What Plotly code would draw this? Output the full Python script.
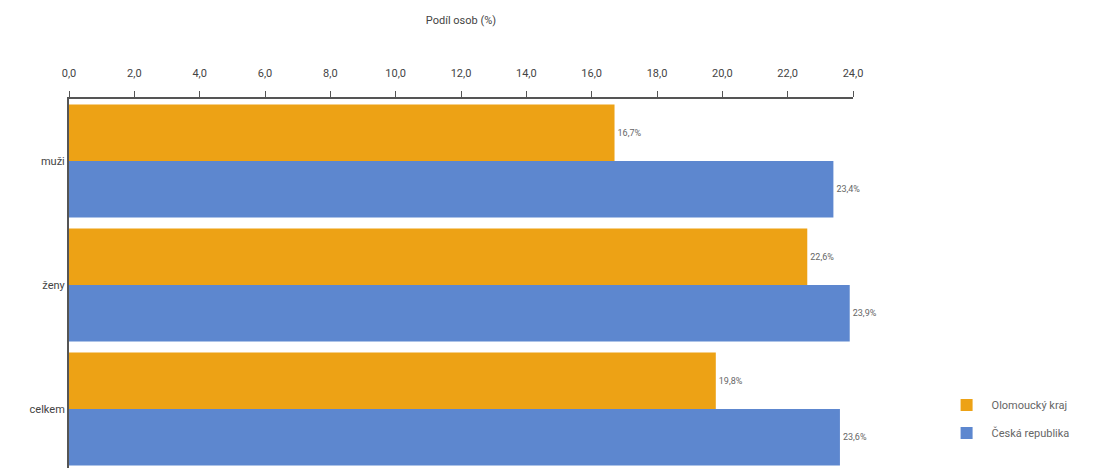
import plotly.graph_objects as go

categories = ["muži", "ženy", "celkem"]
series_names = ["Olomoucký kraj", "Česká republika"]
olomoucky = [16.7, 22.6, 19.8]
cesko = [23.4, 23.9, 23.6]
colors = ["#EDA215", "#5D87CF"]
x_ticks = [0, 2, 4, 6, 8, 10, 12, 14, 16, 18, 20, 22, 24]

fig = go.Figure()
for i, (name, vals, col) in enumerate(zip(series_names, [olomoucky, cesko], colors)):
    fig.add_trace(go.Bar(
        y=categories, x=vals, name=name, orientation="h",
        legendgroup=f"g{i}",
        marker=dict(color=col, line=dict(width=0)),
        texttemplate="%{x:.1f}%", textposition="outside",
        textfont=dict(size=9, color="#666666", family="Roboto"),
        cliponaxis=False,
    ))

fig.update_layout(
    width=1107, height=468,
    margin=dict(l=61, r=262, t=91, b=5, autoexpand=False),
    paper_bgcolor="white", plot_bgcolor="white",
    barmode="group", bargap=0.09, bargroupgap=0,
    separators=", ",
    font=dict(family="Roboto", size=11, color="#444444"),
    showlegend=True,
    legend=dict(x=1.113, y=0.063, xanchor="left", yanchor="bottom",
                font=dict(size=11, color="#666666"), traceorder="grouped",
                itemwidth=40, tracegroupgap=9),
)
fig.update_xaxes(
    side="top", range=[0, 24], tickvals=x_ticks, automargin=False,
    tickformat=".1f", showgrid=False, zeroline=False,
    showline=True, linecolor="#555555", linewidth=2,
    ticks="outside", ticklen=6, tickcolor="#555555",
    ticklabelstandoff=10,
    tickfont=dict(size=11, color="#444444"),
    title=dict(text="Podíl osob (%)", font=dict(size=11, color="#444444"), standoff=40),
)
fig.update_yaxes(
    autorange="reversed", showgrid=False, zeroline=False, automargin=False,
    showline=True, linecolor="#555555", linewidth=2,
    ticks="", tickfont=dict(size=11, color="#444444"),
)

fig.write_html("out.html")
